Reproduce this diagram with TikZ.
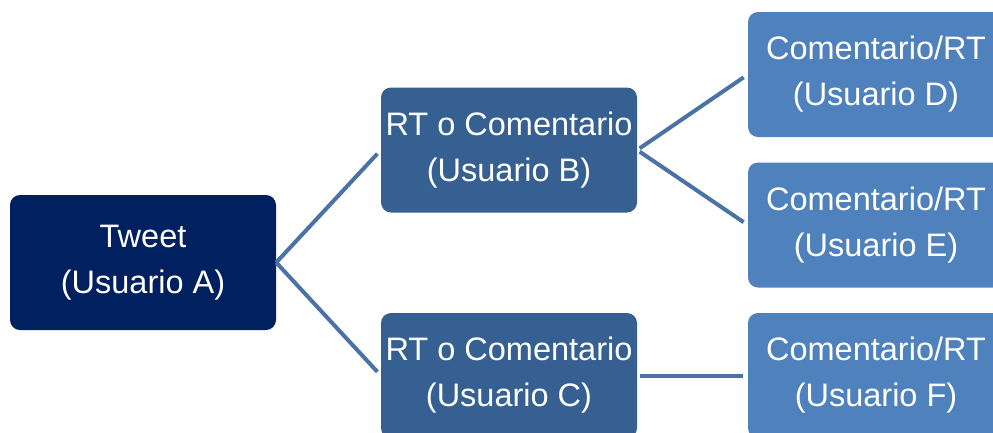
\documentclass[tikz,border=0pt]{standalone}
\usepackage{fontspec}
\setmainfont{Liberation Sans}
\definecolor{tweetblue}{HTML}{002060}
\definecolor{rtblue}{HTML}{376092}
\definecolor{comblue}{HTML}{4F81BD}
\definecolor{linkblue}{HTML}{4A72A6}
\begin{document}
\begin{tikzpicture}[x=1pt, y=-1pt,
    box/.style={rectangle, rounded corners=10pt, text=white, align=center,
      inner sep=0pt, minimum width=256pt, minimum height=125pt,
      execute at begin node={\rule{0pt}{29pt}},
      font=\fontsize{32.5}{46}\selectfont},
    link/.style={draw=linkblue, line width=4pt, shorten >=5pt},
  ]
  \path[use as bounding box, clip] (0,0) rectangle (993,432);
  % tree of boxes
  \node[box, fill=tweetblue, minimum width=266pt, minimum height=135pt] (tweet) at (143,262.5) {Tweet\\(Usuario A)};
  \node[box, fill=rtblue] (rtb) at (509,150) {RT o Comentario\\(Usuario B)};
  \node[box, fill=rtblue] (rtc) at (509,375.5) {RT o Comentario\\(Usuario C)};
  \node[box, fill=comblue] (comd) at (876,74.5) {Comentario/RT\\(Usuario D)};
  \node[box, fill=comblue] (come) at (876,225) {Comentario/RT\\(Usuario E)};
  \node[box, fill=comblue] (comf) at (876,375.5) {Comentario/RT\\(Usuario F)};
  % links
  \draw[link] (tweet.east) -- (rtb.west);
  \draw[link] (tweet.east) -- (rtc.west);
  \draw[link, shorten <=3pt] (rtb.east) -- (comd.west);
  \draw[link, shorten <=3pt] (rtb.east) -- (come.west);
  \draw[link, shorten <=3pt] (rtc.east) -- (comf.west);
\end{tikzpicture}
\end{document}
